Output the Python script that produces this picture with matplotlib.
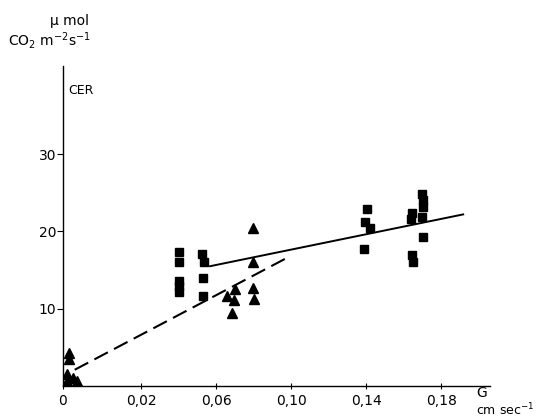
import numpy as np
import matplotlib
matplotlib.use("Agg")
import matplotlib.pyplot as plt

plt.rcParams['font.family'] = ['DejaVu Sans']
plt.rcParams['mathtext.default'] = 'regular'
plt.rcParams['lines.scale_dashes'] = False

# Data (G in cm/sec, CER in umol CO2 m-2 s-1)
tri_G = [0.0015, 0.0015, 0.001, 0.0025, 0.0035, 0.001,
         0.0797, 0.0797, 0.0797, 0.080, 0.070, 0.066, 0.0695, 0.0685]
tri_CER = [4.3, 3.5, 1.5, 1.0, 0.7, 0.6,
           20.5, 16.1, 12.7, 11.3, 12.6, 11.6, 11.1, 9.5]

sq_G = [0.040, 0.040, 0.040, 0.040, 0.040,
        0.0525, 0.0535, 0.053, 0.053,
        0.1405, 0.1395, 0.142, 0.139,
        0.1645, 0.164, 0.1645, 0.165,
        0.170, 0.1705, 0.1705, 0.170, 0.1705]
sq_CER = [17.4, 16.1, 13.6, 12.9, 12.2,
          17.1, 16.0, 14.0, 11.7,
          22.9, 21.2, 20.5, 17.7,
          22.4, 21.6, 16.9, 16.1,
          24.9, 24.0, 23.2, 21.8, 19.3]

solid_G = [0.0568, 0.1917]
solid_CER = [15.5, 22.2]
dash_G = [0.003, 0.0995]
dash_CER = [2.1, 16.8]

xticks = [0, 0.02, 0.06, 0.10, 0.14, 0.18]
xticklabels = ["0", "0,02", "0,06", "0,10", "0,14", "0,18"]
yticks = [10, 20, 30]
yticklabels = ["10", "20", "30"]


def fwd(x):
    x = np.asarray(x, dtype=float)
    return np.where(x < 0.02, -0.0216 + 2.08 * x, x)


def inv(y):
    y = np.asarray(y, dtype=float)
    return np.where(y < 0.02, (y + 0.0216) / 2.08, y)


W, H = 542, 417
fig = plt.figure(figsize=(W / 100, H / 100), dpi=100)
ax = fig.add_axes([63 / W, 1 - 386 / H, (490 - 63) / W, (386 - 66) / H])
ax.set_xscale('function', functions=(fwd, inv))
ax.set_xlim(0, 0.206)
ax.set_ylim(0, 41.4)

ax.plot(solid_G, solid_CER, color='black', lw=1.4, zorder=2)
ax.plot(dash_G, dash_CER, color='black', lw=1.5, linestyle=(0, (11, 5)), zorder=2)
ax.plot(sq_G, sq_CER, linestyle='none', marker='s', ms=5.5, color='black', zorder=3)
ax.plot(tri_G, tri_CER, linestyle='none', marker='^', ms=7, color='black', zorder=3)

for s in ['top', 'right']:
    ax.spines[s].set_visible(False)
for s in ['left', 'bottom']:
    ax.spines[s].set_linewidth(1.0)

ax.set_xticks(xticks)
ax.set_xticklabels(xticklabels)
ax.set_yticks(yticks)
ax.set_yticklabels(yticklabels)
ax.xaxis.set_minor_locator(matplotlib.ticker.NullLocator())
ax.tick_params(axis='x', direction='inout', length=5, width=0.8, pad=3, labelsize=10)
ax.tick_params(axis='y', direction='out', length=4, width=0.8, pad=1, labelsize=10)

def ftext(x, y, s, **kw):
    fig.text(x / W, 1 - y / H, s, **kw)

ftext(70, 25, "μ mol", ha='center', va='baseline', fontsize=10)
ftext(8, 46, r"CO$_2$ m$^{-2}$s$^{-1}$", ha='left', va='baseline', fontsize=10)
ftext(68, 94, "CER", ha='left', va='baseline', fontsize=9)
ftext(482, 393, "G", ha='center', va='center', fontsize=10)
ftext(505, 410, r"cm sec$^{-1}$", ha='center', va='center', fontsize=9)

fig.savefig("out.png", dpi=100)
